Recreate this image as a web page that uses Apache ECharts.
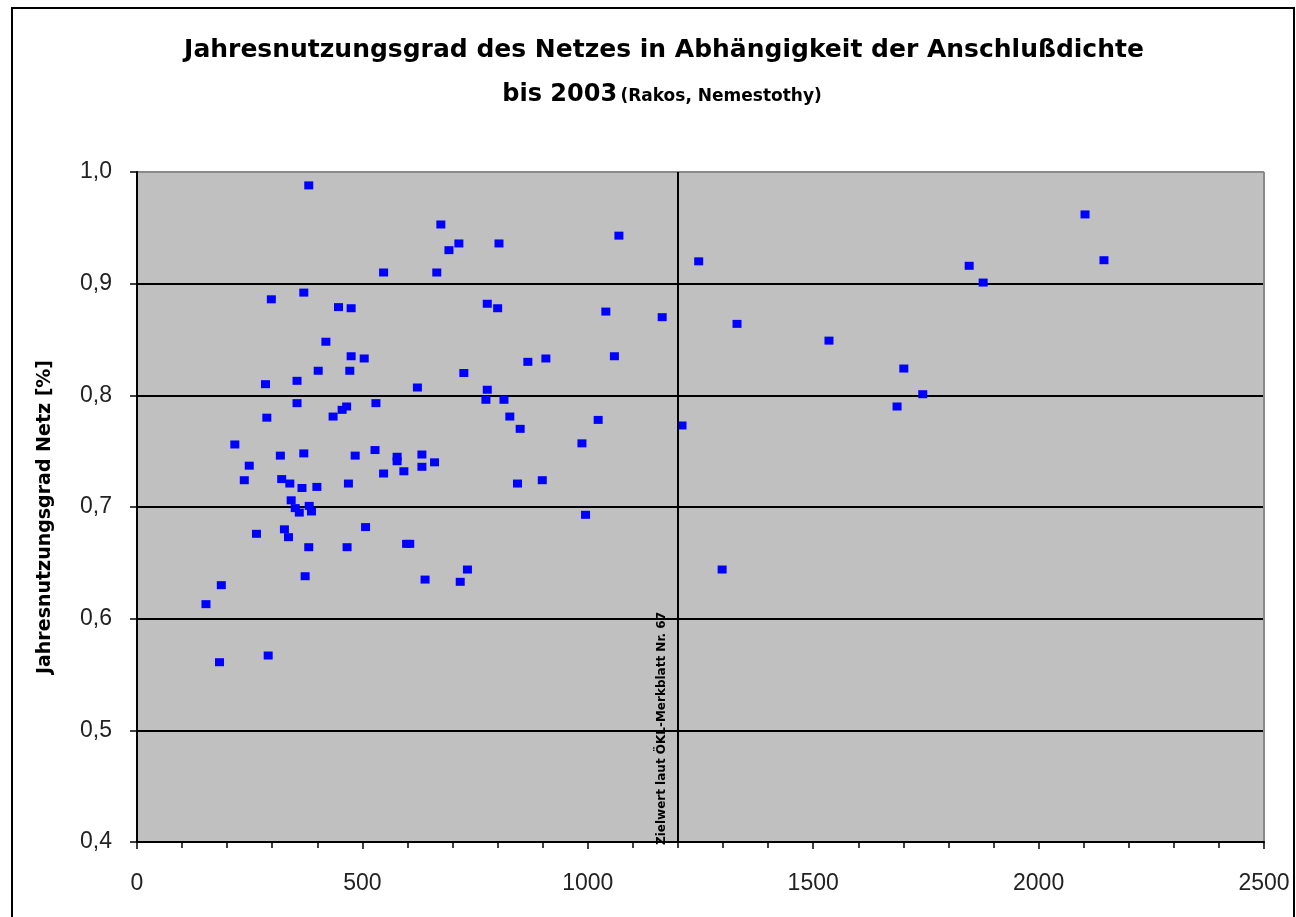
<!DOCTYPE html>
<html>
<head>
<meta charset="utf-8">
<script src="https://cdn.jsdelivr.net/npm/echarts@6/dist/echarts.min.js"></script>
<style>
html,body{margin:0;padding:0;background:#fff;}
#chart{width:1296px;height:917px;}
</style>
</head>
<body>
<div id="chart"></div>
<script>
// Anschlußdichte (x) and Jahresnutzungsgrad (y)
const anschlussdichte = [
  381, 674, 714, 692, 803, 665, 1069, 1246, 547, 298,
  370, 447, 475, 419, 475, 504, 402, 472, 285, 355,
  355, 465, 455, 435, 530, 288, 217, 318, 370, 484,
  528, 577, 577, 592, 249, 547, 238, 321, 339, 366,
  399, 469, 342, 351, 360, 382, 387, 265, 327, 336,
  381, 466, 507, 598, 373, 187, 153, 183, 291, 777,
  800, 1040, 1165, 725, 867, 907, 1059, 622, 777, 774,
  814, 827, 850, 1023, 987, 1209, 632, 632, 660, 844,
  899, 995, 605, 639, 733, 717, 1331, 1298, 1535, 1846,
  1877, 2145, 2103, 1701, 1686, 1743
];
const nutzungsgrad = [
  0.988, 0.953, 0.936, 0.930, 0.936, 0.910, 0.943, 0.920, 0.910, 0.886,
  0.892, 0.879, 0.878, 0.848, 0.835, 0.833, 0.822, 0.822, 0.810, 0.813,
  0.793, 0.790, 0.787, 0.781, 0.793, 0.780, 0.756, 0.746, 0.748, 0.746,
  0.751, 0.745, 0.741, 0.732, 0.737, 0.730, 0.724, 0.725, 0.721, 0.717,
  0.718, 0.721, 0.706, 0.699, 0.695, 0.701, 0.696, 0.676, 0.680, 0.673,
  0.664, 0.664, 0.682, 0.667, 0.638, 0.630, 0.613, 0.561, 0.567, 0.882,
  0.878, 0.875, 0.870, 0.820, 0.830, 0.833, 0.835, 0.807, 0.805, 0.796,
  0.796, 0.781, 0.770, 0.778, 0.757, 0.773, 0.747, 0.736, 0.740, 0.721,
  0.724, 0.693, 0.667, 0.635, 0.644, 0.633, 0.864, 0.644, 0.849, 0.916,
  0.901, 0.921, 0.962, 0.824, 0.790, 0.801
];
const zielwert = 1200;
const zielwertLabel = 'Zielwert laut ÖKL-Merkblatt Nr. 67';
const titleLine1 = 'Jahresnutzungsgrad des Netzes in Abhängigkeit der Anschlußdichte';
const titleLine2a = 'bis 2003';
const titleLine2b = '(Rakos, Nemestothy)';
const yAxisName = 'Jahresnutzungsgrad Netz [%]';

const points = anschlussdichte.map((x, i) => [x, nutzungsgrad[i]]);

const chart = echarts.init(document.getElementById('chart'), null, {renderer: 'canvas'});
const FONT = '"Liberation Sans", Arial, sans-serif';
const WIDE = '"DejaVu Sans", "Liberation Sans", sans-serif';

chart.setOption({
  animation: false,
  backgroundColor: '#ffffff',
  textStyle: {fontFamily: FONT},
  graphic: [
    {type: 'rect', shape: {x: 12, y: 8, width: 1282, height: 930},
     style: {fill: 'none', stroke: '#000', lineWidth: 2}, silent: true, z: 100},
    {type: 'text', x: 664, y: 50,
     style: {text: titleLine1, font: 'bold 25px ' + WIDE, fill: '#000',
             textAlign: 'center', textVerticalAlign: 'middle'}},
    {type: 'text', x: 662, y: 95,
     style: {
       text: '{a|' + titleLine2a + '} {b|' + titleLine2b + '}',
       textAlign: 'center', textVerticalAlign: 'middle',
       rich: {
         a: {font: 'bold 24px ' + WIDE, fill: '#000'},
         b: {font: 'bold 17px ' + WIDE, fill: '#000', padding: [4, 0, 0, 0]}
       }
     }}
  ],
  grid: {
    left: 137, right: 32, top: 172, bottom: 75,
    show: true, backgroundColor: '#C0C0C0', borderWidth: 0
  },
  xAxis: {
    type: 'value', min: 0, max: 2500, interval: 500,
    axisLine: {show: true, onZero: false, lineStyle: {color: '#000', width: 2}},
    axisTick: {show: true, length: 7, lineStyle: {color: '#000', width: 1.5}},
    minorTick: {show: true, splitNumber: 5, length: 6, lineStyle: {color: '#000', width: 1.5}},
    axisLabel: {fontSize: 23, color: '#222', margin: 30, fontFamily: FONT,
      formatter: v => String(v)},
    splitLine: {show: true, lineStyle: {color: ['rgba(0,0,0,0)','rgba(0,0,0,0)','rgba(0,0,0,0)','rgba(0,0,0,0)','rgba(0,0,0,0)','#8a8a8a'], width: 2}}
  },
  yAxis: {
    type: 'value', min: 0.4, max: 1.0, interval: 0.1,
    name: yAxisName, nameLocation: 'middle', nameRotate: 90, nameGap: 82,
    nameTextStyle: {fontSize: 19, fontWeight: 'bold', color: '#000', fontFamily: WIDE,
      padding: [0, 20, 0, 0]},
    axisLine: {show: true, lineStyle: {color: '#000', width: 2}},
    axisTick: {show: true, length: 7, lineStyle: {color: '#000', width: 1.5}},
    axisLabel: {fontSize: 23, color: '#222', margin: 25, fontFamily: FONT,
      formatter: v => v.toFixed(1).replace('.', ',')},
    splitLine: {show: true, lineStyle: {color: ['#000','#000','#000','#000','#000','#000','#8a8a8a'], width: 2}}
  },
  series: [{
    type: 'scatter',
    data: points,
    symbol: 'rect',
    symbolSize: [9, 8],
    itemStyle: {color: '#0000FF', opacity: 1},
    markLine: {
      silent: true,
      symbol: ['none', 'none'],
      lineStyle: {color: '#000', width: 2, type: 'solid'},
      label: {
        show: true, position: 'insideStartTop', formatter: zielwertLabel,
        fontSize: 12, fontWeight: 'bold', color: '#000', fontFamily: WIDE,
        distance: [-3, 10]
      },
      data: [{xAxis: zielwert}]
    }
  }]
});
</script>
</body>
</html>
